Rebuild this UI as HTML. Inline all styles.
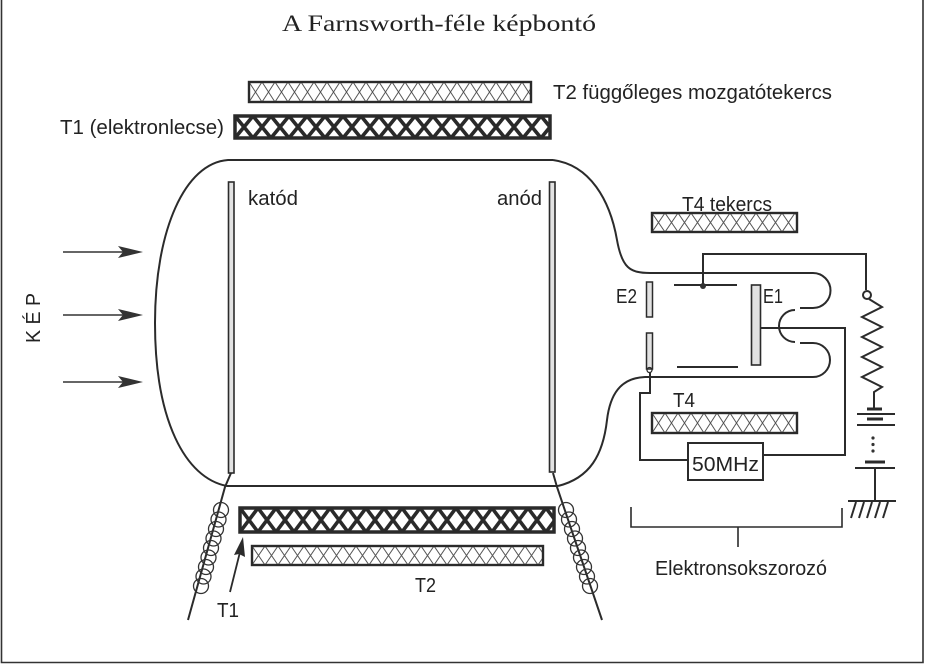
<!DOCTYPE html>
<html><head><meta charset="utf-8"><style>
html,body{margin:0;padding:0;background:#fff;}
svg{display:block;}
text{font-family:"Liberation Sans",sans-serif;fill:#222;}
</style></head><body>
<svg width="940" height="669" viewBox="0 0 940 669" xmlns="http://www.w3.org/2000/svg">
<defs>
<pattern id="pL1" patternUnits="userSpaceOnUse" x="249" y="82" width="13" height="20"><path d="M0,0 L13,20 M13,0 L0,20" stroke="#555" stroke-width="1"/></pattern>
<pattern id="pD1" patternUnits="userSpaceOnUse" x="235" y="116" width="18" height="22"><path d="M0,0 L18,22 M18,0 L0,22" stroke="#2a2a2a" stroke-width="3.6"/></pattern>
<pattern id="pL2" patternUnits="userSpaceOnUse" x="652" y="213" width="13" height="19"><path d="M0,0 L13,19 M13,0 L0,19" stroke="#555" stroke-width="1"/></pattern>
<pattern id="pL3" patternUnits="userSpaceOnUse" x="652" y="413" width="13" height="20"><path d="M0,0 L13,20 M13,0 L0,20" stroke="#555" stroke-width="1"/></pattern>
<pattern id="pD2" patternUnits="userSpaceOnUse" x="240" y="508" width="18" height="24"><path d="M0,0 L18,24 M18,0 L0,24" stroke="#2a2a2a" stroke-width="3.6"/></pattern>
<pattern id="pL4" patternUnits="userSpaceOnUse" x="252" y="546" width="13" height="19"><path d="M0,0 L13,19 M13,0 L0,19" stroke="#555" stroke-width="1"/></pattern>
</defs>

<!-- frame -->
<path d="M1.5,0 L1.5,662.5 L923,662.5 L923,0" fill="none" stroke="#333" stroke-width="1.6"/>

<!-- title -->
<text x="282" y="31" style="font-family:'Liberation Serif',serif" font-size="23" fill="#1a1a1a" textLength="314" lengthAdjust="spacingAndGlyphs">A Farnsworth-féle képbontó</text>

<!-- top coils -->
<rect x="249" y="82" width="282" height="20" fill="url(#pL1)" stroke="#2a2a2a" stroke-width="2.4"/>
<text x="553" y="99" font-size="20" textLength="279" lengthAdjust="spacingAndGlyphs">T2 függőleges mozgatótekercs</text>
<rect x="235" y="116" width="315" height="22" fill="url(#pD1)" stroke="#2a2a2a" stroke-width="3.5"/>
<text x="60" y="134" font-size="20" textLength="164" lengthAdjust="spacingAndGlyphs">T1 (elektronlecse)</text>

<!-- tube outline -->
<g fill="none" stroke="#2b2b2b" stroke-width="2">
<path d="M553,160 L228,160 C185,163 155,230 155,323 C155,420 185,478 227,486 L558,486"/>
<path d="M553,160 C590,165 610,200 617,240 C622,268 630,273 650,273 L813,273 A17.5,17.5 0 0 1 813,308 L800,308"/>
<path d="M795,310 A16,16 0 0 0 795,342"/>
<path d="M800,343 L813,343 A17,17 0 0 1 813,377 L645,377 C620,378 610,395 607,420 C603,455 590,478 558,486"/>
</g>

<!-- cathode & anode plates -->
<rect x="228.5" y="182" width="5.5" height="291" fill="#e2e2e2" stroke="#2b2b2b" stroke-width="1.6"/>
<rect x="549.5" y="182" width="5.5" height="290" fill="#e2e2e2" stroke="#2b2b2b" stroke-width="1.6"/>
<text x="248" y="205" font-size="20" textLength="50" lengthAdjust="spacingAndGlyphs">katód</text>
<text x="497" y="205" font-size="20" textLength="45" lengthAdjust="spacingAndGlyphs">anód</text>

<!-- input arrows -->
<g stroke="#333" stroke-width="1.6">
<line x1="63" y1="252" x2="125" y2="252"/>
<line x1="63" y1="315" x2="125" y2="315"/>
<line x1="63" y1="382" x2="125" y2="382"/>
</g>
<g fill="#333">
<polygon points="143,252 118,246 123,252 118,258"/>
<polygon points="143,315 118,309 123,315 118,321"/>
<polygon points="143,382 118,376 123,382 118,388"/>
</g>
<text transform="translate(40,343) rotate(-90)" font-size="20" textLength="50" lengthAdjust="spacingAndGlyphs">K É P</text>

<!-- T4 coils -->
<text x="682" y="211" font-size="20" textLength="90" lengthAdjust="spacingAndGlyphs">T4 tekercs</text>
<rect x="652" y="213" width="145" height="19" fill="url(#pL2)" stroke="#2a2a2a" stroke-width="2.4"/>
<text x="673" y="407" font-size="20" textLength="22" lengthAdjust="spacingAndGlyphs">T4</text>
<rect x="652" y="413" width="145" height="20" fill="url(#pL3)" stroke="#2a2a2a" stroke-width="2.4"/>

<!-- electrodes -->
<rect x="646.5" y="282" width="6" height="35" fill="#e2e2e2" stroke="#2b2b2b" stroke-width="1.5"/>
<rect x="646.5" y="333" width="6" height="36" fill="#e2e2e2" stroke="#2b2b2b" stroke-width="1.5"/>
<circle cx="649.5" cy="370" r="2.5" fill="none" stroke="#2b2b2b" stroke-width="1.3"/>
<rect x="751.5" y="285" width="9" height="80" fill="#e2e2e2" stroke="#2b2b2b" stroke-width="1.6"/>
<text x="616" y="303" font-size="20" textLength="21" lengthAdjust="spacingAndGlyphs">E2</text>
<text x="763" y="303" font-size="20" textLength="20" lengthAdjust="spacingAndGlyphs">E1</text>

<g fill="none" stroke="#2b2b2b" stroke-width="2">
<line x1="674" y1="285" x2="737" y2="285"/>
<line x1="677" y1="367" x2="738" y2="367"/>
<path d="M703,285 L703,254 L866,254 L866,290"/>
<circle cx="867" cy="295" r="4"/>
<path d="M869,299 L882,307 L862,317 L882,327 L862,337 L882,347 L862,357 L882,367 L862,377 L882,387 L874,392 L874,409"/>
<path d="M761,328 L845,328 L845,455 L763,455"/>
<path d="M650,372 L650,393 L640,393 L640,460 L688,460"/>
<line x1="875" y1="468" x2="875" y2="501"/>
<line x1="848" y1="501" x2="896" y2="501"/>
</g>
<g stroke="#2b2b2b">
<line x1="867" y1="409" x2="882" y2="409" stroke-width="3"/>
<line x1="857" y1="414" x2="895" y2="414" stroke-width="2"/>
<line x1="867" y1="419" x2="883" y2="419" stroke-width="3"/>
<line x1="857" y1="425" x2="895" y2="425" stroke-width="2"/>
<line x1="865" y1="462" x2="885" y2="462" stroke-width="3"/>
<line x1="855" y1="468" x2="895" y2="468" stroke-width="2"/>
<line x1="856" y1="502" x2="851" y2="518" stroke-width="2"/>
<line x1="864" y1="502" x2="859" y2="518" stroke-width="2"/>
<line x1="872" y1="502" x2="867" y2="518" stroke-width="2"/>
<line x1="880" y1="502" x2="875" y2="518" stroke-width="2"/>
<line x1="888" y1="502" x2="883" y2="518" stroke-width="2"/>
</g>
<g fill="#333">
<circle cx="873" cy="438" r="1.6"/>
<circle cx="873" cy="444.5" r="1.6"/>
<circle cx="873" cy="451" r="1.6"/>
<circle cx="703" cy="286" r="3"/>
</g>

<!-- 50MHz box -->
<rect x="688" y="443" width="75" height="37" fill="#fff" stroke="#2b2b2b" stroke-width="2"/>
<text x="692" y="471" font-size="20" textLength="67" lengthAdjust="spacingAndGlyphs">50MHz</text>

<!-- bracket -->
<path d="M631,507 L631,527 L842,527 L842,508 M738,527 L738,547" fill="none" stroke="#2b2b2b" stroke-width="1.6"/>
<text x="655" y="575" font-size="20" textLength="172" lengthAdjust="spacingAndGlyphs">Elektronsokszorozó</text>

<!-- bottom coils -->
<rect x="240" y="508" width="314" height="24" fill="url(#pD2)" stroke="#2a2a2a" stroke-width="3.5"/>
<rect x="252" y="546" width="291" height="19" fill="url(#pL4)" stroke="#2a2a2a" stroke-width="2.4"/>
<text x="415" y="592" font-size="20" textLength="21" lengthAdjust="spacingAndGlyphs">T2</text>
<text x="217" y="617" font-size="20" textLength="22" lengthAdjust="spacingAndGlyphs">T1</text>

<!-- T1 arrow -->
<line x1="230" y1="592" x2="240" y2="552" stroke="#2b2b2b" stroke-width="1.8"/>
<polygon points="243,537 245,557 239,554 234,555" fill="#2b2b2b"/>

<!-- leads -->
<g fill="none" stroke="#2b2b2b" stroke-width="2">
<path d="M231,473 L225,487 L188,620"/>
<path d="M553,473 L557,487 L602,620"/>
</g>
<g fill="none" stroke="#333" stroke-width="1.3">
<circle cx="221" cy="510" r="7.5"/>
<circle cx="218.5" cy="519.5" r="7.5"/>
<circle cx="216" cy="529" r="7.5"/>
<circle cx="213.5" cy="538.5" r="7.5"/>
<circle cx="211" cy="548" r="7.5"/>
<circle cx="208.5" cy="557.5" r="7.5"/>
<circle cx="206" cy="567" r="7.5"/>
<circle cx="203.5" cy="576.5" r="7.5"/>
<circle cx="201" cy="586" r="7.5"/>
<circle cx="566" cy="510" r="7.5"/>
<circle cx="569" cy="519.5" r="7.5"/>
<circle cx="572" cy="529" r="7.5"/>
<circle cx="575" cy="538.5" r="7.5"/>
<circle cx="578" cy="548" r="7.5"/>
<circle cx="581" cy="557.5" r="7.5"/>
<circle cx="584" cy="567" r="7.5"/>
<circle cx="587" cy="576.5" r="7.5"/>
<circle cx="590" cy="586" r="7.5"/>
</g>
</svg>
</body></html>
